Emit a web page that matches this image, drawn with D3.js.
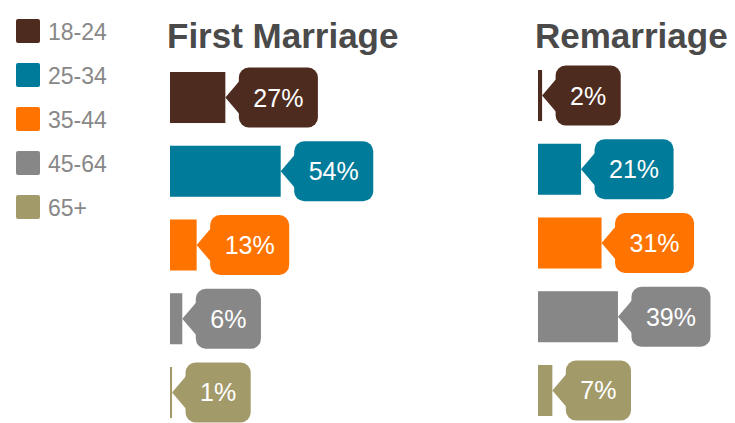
<!DOCTYPE html>
<html>
<head>
<style>
  body { margin: 0; background: #fff; font-family: "Liberation Sans", Arial, Helvetica, sans-serif; }
</style>
</head>
<body>
<script src="https://d3js.org/d3.v7.min.js"></script>
<script>
  const ages = ['18-24', '25-34', '35-44', '45-64', '65+'];
  const colors = ['#4e2b1f', '#007b99', '#ff7400', '#878787', '#a39a6a'];
  const firstMarriage = [27, 54, 13, 6, 1];
  const remarriage = [2, 21, 31, 39, 7];
  const panels = [
    { title: 'First Marriage', values: firstMarriage, x0: 170, y0: 72 },
    { title: 'Remarriage', values: remarriage, x0: 538, y0: 70 }
  ];

  const width = 735, height = 423;
  const svg = d3.select('body').append('svg')
    .attr('width', width)
    .attr('height', height);

  const color = d3.scaleOrdinal().domain(ages).range(colors);

  // legend
  const legend = svg.append('g').attr('class', 'legend');
  const ly = d3.scalePoint().domain(ages).range([19, 195]);
  legend.selectAll('rect')
    .data(ages)
    .join('rect')
    .attr('x', 16)
    .attr('y', d => ly(d))
    .attr('width', 24)
    .attr('height', 24)
    .attr('rx', 2)
    .attr('fill', d => color(d));
  legend.selectAll('text')
    .data(ages)
    .join('text')
    .attr('x', 48)
    .attr('y', d => ly(d) + 20.5)
    .attr('font-size', 23)
    .attr('fill', '#888')
    .text(d => d);

  const x = d3.scaleLinear().domain([0, 100]).range([0, 205]);

  panels.forEach(p => {
    const g = svg.append('g')
      .attr('transform', 'translate(' + p.x0 + ',0)');

    g.append('text')
      .attr('x', -3)
      .attr('y', 48)
      .attr('font-size', 35)
      .attr('font-weight', 'bold')
      .attr('fill', '#4a4a4a')
      .text(p.title);

    const y = d3.scaleBand()
      .domain(ages)
      .range([p.y0, p.y0 + 4 * 73.75 + 51])
      .paddingInner(0.308);

    const rows = g.selectAll('g.row')
      .data(ages.map((a, i) => ({ age: a, value: p.values[i] })))
      .join('g')
      .attr('class', 'row');

    rows.append('rect')
      .attr('x', 0)
      .attr('y', d => y(d.age))
      .attr('width', d => x(d.value))
      .attr('height', y.bandwidth())
      .attr('fill', d => color(d.age));

    // callout label
    rows.each(function(d) {
      const row = d3.select(this);
      const cy = y(d.age) + y.bandwidth() / 2;
      const tip = x(d.value);
      const bx = tip + 13.5;
      const label = row.append('text')
        .attr('font-size', 25)
        .attr('fill', '#fff')
        .attr('text-anchor', 'middle')
        .text(d.value + '%');
      const tw = label.node().getComputedTextLength();
      const bw = tw + 29;

      row.insert('path', 'text')
        .attr('d', `M${tip},${cy} L${bx + 1},${cy - 17} L${bx + 1},${cy + 17} Z`)
        .attr('fill', color(d.age));
      row.insert('rect', 'text')
        .attr('x', bx)
        .attr('y', cy - 30)
        .attr('width', bw)
        .attr('height', 60)
        .attr('rx', 10)
        .attr('fill', color(d.age));

      label.attr('x', bx + bw / 2)
        .attr('y', cy + 9);
    });
  });
</script>
</body>
</html>
